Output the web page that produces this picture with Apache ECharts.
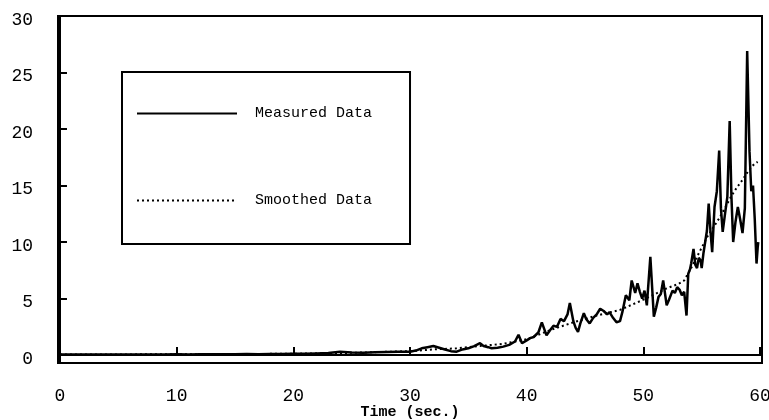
<!DOCTYPE html>
<html>
<head>
<meta charset="utf-8">
<script src="https://cdn.jsdelivr.net/npm/echarts@6/dist/echarts.min.js"></script>
<style>
  html, body { margin: 0; padding: 0; background: #fff; }
  #chart { width: 769px; height: 420px; }
</style>
</head>
<body>
<div id="chart"></div>
<script>
// measured signal (time in sec, value)
const measuredTime = [
  0, 1, 2, 3, 4, 5, 6, 7, 8, 9, 10, 11, 12, 13, 14, 15, 16, 17, 18, 19, 20,
  21, 22, 23, 24, 25, 26, 27, 28, 29, 30,
  30.5, 31, 31.5, 32, 32.5, 33, 33.5, 34, 34.5, 35, 35.5, 36, 36.3, 36.7, 37,
  37.5, 38, 38.5, 39, 39.3, 39.6, 40, 40.3, 40.6, 41, 41.3, 41.7, 42, 42.3,
  42.6, 42.9, 43.2, 43.5, 43.7, 44, 44.2, 44.4, 44.6, 44.9, 45.1, 45.4, 45.7,
  46, 46.3, 46.6, 46.9, 47.1, 47.4, 47.7, 48, 48.2, 48.5, 48.8, 49, 49.3, 49.5,
  49.7, 49.9, 50.1, 50.3, 50.6, 50.9, 51.1, 51.3, 51.5, 51.7, 52, 52.2, 52.5,
  52.7, 52.9, 53.1, 53.3, 53.5, 53.7, 53.85, 54, 54.1, 54.3, 54.45, 54.6, 54.75,
  54.9, 55, 55.15, 55.3, 55.45, 55.6, 55.75, 55.9, 56.1, 56.3, 56.5, 56.65, 56.8,
  57, 57.2, 57.4, 57.55, 57.7, 57.9, 58.1, 58.3, 58.5, 58.7, 58.9, 59.1, 59.25,
  59.4, 59.55, 59.7, 59.8, 59.85
];
const measuredValue = [
  0.05, 0.05, 0.06, 0.05, 0.05, 0.06, 0.05, 0.06, 0.06, 0.05, 0.07, 0.06, 0.07,
  0.08, 0.07, 0.08, 0.09, 0.08, 0.1, 0.1, 0.12, 0.12, 0.15, 0.18, 0.3, 0.22,
  0.2, 0.25, 0.28, 0.3, 0.3,
  0.4, 0.6, 0.7, 0.8, 0.65, 0.5, 0.35, 0.3, 0.5, 0.6, 0.8, 1.05, 0.8, 0.7, 0.6,
  0.65, 0.75, 0.9, 1.2, 1.8, 1.05, 1.3, 1.5, 1.6, 2.0, 2.9, 1.75, 2.2, 2.6,
  2.5, 3.2, 3.0, 3.6, 4.6, 3.0, 2.4, 2.05, 2.8, 3.7, 3.2, 2.8, 3.3,
  3.6, 4.1, 3.9, 3.6, 3.8, 3.3, 2.9, 3.0, 3.8, 5.3, 4.85, 6.6, 5.5, 6.35,
  5.6, 5.0, 5.7, 4.4, 8.7, 3.4, 4.2, 5.15, 5.4, 6.6, 4.4, 4.9, 5.7,
  5.5, 6.0, 5.8, 5.3, 5.6, 3.5, 7.2, 7.6, 8.1, 9.4, 8.0, 7.7, 8.6,
  8.4, 7.7, 9.0, 10.0, 11.0, 13.4, 11.0, 9.1, 13.1, 14.5, 18.1, 13.0, 10.9,
  12.5, 14.0, 20.7, 14.0, 10.0, 11.8, 13.1, 12.0, 10.8, 13.0, 26.9, 18.0, 14.5,
  15.0, 12.0, 8.1, 9.5, 10.0
];

// smoothed curve
const smoothTime = [
  0, 5, 10, 15, 20, 25, 30, 32, 34, 36, 38, 40, 42, 44, 46, 48, 50, 51, 52, 53,
  53.5, 54, 54.5, 55, 55.5, 56, 56.5, 57, 57.5, 58, 58.5, 59, 59.5, 59.8
];
const smoothValue = [
  0.05, 0.06, 0.07, 0.09, 0.12, 0.2, 0.35, 0.5, 0.6, 0.8, 1.0, 1.4, 2.2, 2.9,
  3.5, 4.0, 4.9, 5.4, 5.9, 6.3, 6.6, 7.5, 8.5, 9.5, 10.5, 11.3, 12.1, 13.0,
  14.0, 14.8, 15.5, 16.3, 16.9, 17.1
];

const xTicks = [0, 10, 20, 30, 40, 50, 60];
const yTicks = [0, 5, 10, 15, 20, 25, 30];

const pairs = (xs, ys) => xs.map((x, i) => [x, ys[i]]);

const mono = 'Liberation Mono';
const chart = echarts.init(document.getElementById('chart'));

chart.setOption({
  animation: false,
  backgroundColor: '#fff',
  grid: {
    left: 58, right: 7, top: 16, bottom: 57,
    outerBoundsMode: 'none',
    containLabel: false,
    show: true, borderColor: '#000', borderWidth: 2
  },
  legend: {
    left: 122, top: 72,
    orient: 'vertical',
    padding: [34, 38, 36, 14],
    itemGap: 72,
    itemWidth: 100,
    itemHeight: 14,
    borderColor: '#000',
    borderWidth: 2,
    itemStyle: { opacity: 0 },
    textStyle: { fontFamily: mono, fontSize: 15, color: '#000', padding: [0, 0, 0, 13] },
    data: ['Measured Data', 'Smoothed Data']
  },
  xAxis: {
    type: 'value',
    min: -0.17, max: 60.17,
    name: 'Time (sec.)',
    nameLocation: 'middle',
    nameGap: 42,
    nameMoveOverlap: false,
    nameTextStyle: { fontFamily: mono, fontSize: 15, fontWeight: 'bold', color: '#000' },
    splitLine: { show: false },
    axisLine: { lineStyle: { color: '#000', width: 2 } },
    axisTick: { inside: true, length: 8, customValues: xTicks, lineStyle: { color: '#000', width: 2 } },
    axisLabel: {
      customValues: xTicks, margin: 24,
      fontFamily: mono, fontSize: 18, color: '#000'
    }
  },
  yAxis: {
    type: 'value',
    min: -0.7, max: 30,
    splitLine: { show: false },
    axisLine: { show: true, lineStyle: { color: '#000', width: 2 } },
    axisTick: { show: true, inside: true, length: 7, customValues: yTicks, lineStyle: { color: '#000', width: 2 } },
    axisLabel: {
      customValues: yTicks, margin: 25,
      verticalAlign: 'top', lineHeight: 8,
      fontFamily: mono, fontSize: 18, color: '#000'
    }
  },
  series: [
    {
      name: 'Measured Data',
      type: 'line',
      symbol: 'none',
      data: pairs(measuredTime, measuredValue),
      lineStyle: { color: '#000', width: 2.5 },
      itemStyle: { color: '#000' },
      z: 3
    },
    {
      name: 'Smoothed Data',
      type: 'line',
      symbol: 'none',
      data: pairs(smoothTime, smoothValue),
      lineStyle: { color: '#000', width: 2, type: [2, 3] },
      itemStyle: { color: '#000' },
      z: 2
    }
  ]
});
</script>
</body>
</html>
